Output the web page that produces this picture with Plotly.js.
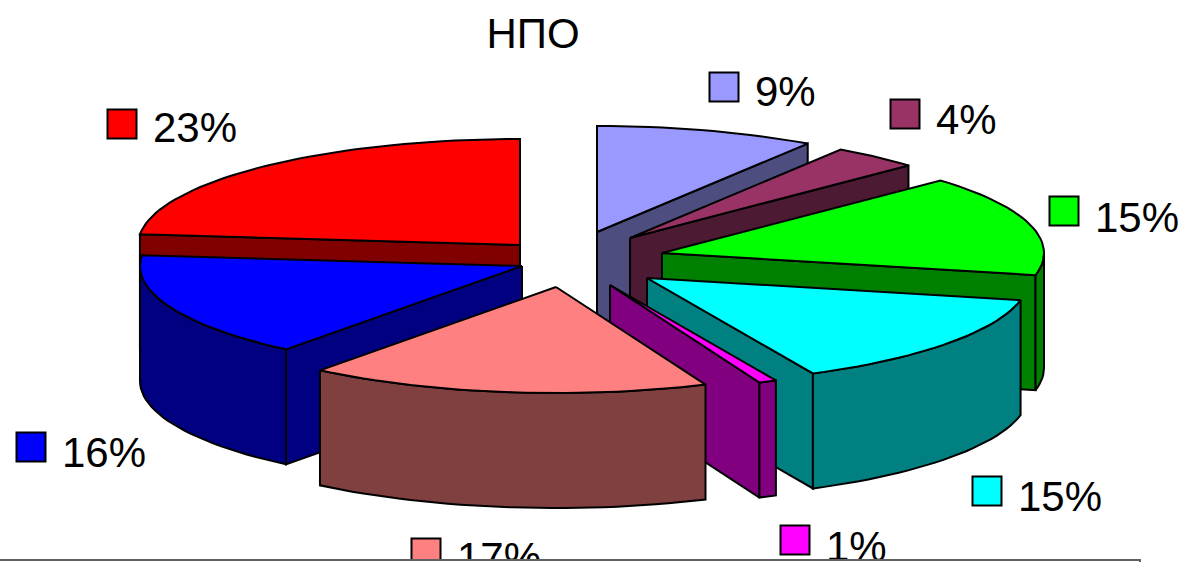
<!DOCTYPE html>
<html><head><meta charset="utf-8">
<script src="https://cdn.plot.ly/plotly-3.0.1.min.js"></script>
<style>html,body{margin:0;padding:0;background:#fff;overflow:hidden}</style></head>
<body><div id="chart" style="width:1182px;height:562px"></div>
<script>
// data: slices run counter-clockwise from 12 o'clock; labels are the rounded shares
const shares = [23.4, 16, 17, 0.75, 14.5, 15.35, 3.7, 9.3];
const chartTitle = "НПО";

// styles
const topColors  = ["#FF0000","#0000FF","#FF8080","#FF00FF","#00FFFF","#00FF00","#993366","#9999FF"];
const sideColors = ["#800000","#000080","#804040","#800080","#008080","#008000","#4D1A33","#4D4D80"];

// layout of the exploded 3D pie
const apexX = [520, 522, 556, 610, 647, 662, 630, 597];
const apexY = [245, 266, 287, 285, 278, 253, 238, 232];
const swatchX = [122, 31, 426, 795, 987, 1064, 905, 724];
const swatchY = [124, 447, 553, 540, 491, 211, 114, 87];
const labelY  = [131, 456, 561, 550, 500, 221, 123, 95];
const rx = 382, ry = 106, depth = 115;
const drawOrder = [7, 6, 5, 4, 0, 1, 3, 2];

const rad = d => d * Math.PI / 180;
const starts = []; let acc = 90;
shares.forEach(s => { starts.push(acc); acc += s * 3.6; });

function arc(cx, cy, a0, a1, dy) {
  const xs = [], ys = [], n = Math.max(2, Math.ceil((a1 - a0) / 2));
  for (let i = 0; i <= n; i++) {
    const a = rad(a0 + (a1 - a0) * i / n);
    xs.push(cx + rx * Math.cos(a)); ys.push(cy - ry * Math.sin(a) + dy);
  }
  return [xs, ys];
}
function poly(xs, ys, fill) {
  return {type:"scatter", mode:"lines", x:[...xs, xs[0]], y:[...ys, ys[0]], fill:"toself",
    fillcolor:fill, line:{color:"#000", width:2}, hoverinfo:"skip", showlegend:false};
}
const traces = [];
drawOrder.forEach(i => {
  const cx = apexX[i], cy = apexY[i], a0 = starts[i], a1 = a0 + shares[i] * 3.6;
  // only the cut faces turned toward the viewer
  [[a0, Math.cos(rad(a0)) > 1e-6], [a1, Math.cos(rad(a1)) < -1e-6]].forEach(([a, seen]) => {
    if (!seen) return;
    const ex = cx + rx * Math.cos(rad(a)), ey = cy - ry * Math.sin(rad(a));
    traces.push(poly([cx, ex, ex, cx], [cy, ey, ey + depth, cy + depth], sideColors[i]));
  });
  // the front of the rim: the parts of the arc between 180 and 360 degrees
  [[180, 360], [540, 720]].forEach(([lo, hi]) => {
    const b0 = Math.max(a0, lo), b1 = Math.min(a1, hi);
    if (b1 > b0) {
      const [tx, ty] = arc(cx, cy, b0, b1, 0), [bx, by] = arc(cx, cy, b0, b1, depth);
      traces.push(poly([...tx, ...bx.reverse()], [...ty, ...by.reverse()], sideColors[i]));
    }
  });
  const [ax, ay] = arc(cx, cy, a0, a1, 0);
  traces.push(poly([cx, ...ax], [cy, ...ay], topColors[i]));
});
const legendFont = {family:"Liberation Sans, Arial, sans-serif", size:42, color:"#000"};
traces.push({type:"scatter", mode:"markers", x:swatchX, y:swatchY, hoverinfo:"skip", showlegend:false,
  marker:{symbol:"square", size:29, color:topColors, line:{color:"#000", width:2}}, cliponaxis:false});
traces.push({type:"scatter", mode:"text", x:swatchX.map(v => v + 31), y:labelY, text:shares.map(v => Math.round(v) + "%"),
  textposition:"middle right", textfont:legendFont, hoverinfo:"skip", showlegend:false, cliponaxis:false});

const layout = {
  width:1182, height:562, margin:{l:0,r:0,t:0,b:0}, paper_bgcolor:"#fff", plot_bgcolor:"#fff",
  title:{text:chartTitle, x:533/1182, xanchor:"center", y:1-33/562, yanchor:"middle",
    font:{family:legendFont.family, size:42, color:"#000"}},
  xaxis:{range:[0,1182], visible:false, fixedrange:true},
  yaxis:{range:[562,0], visible:false, fixedrange:true},
  shapes:[{type:"rect", layer:"above", xref:"x", yref:"y", x0:-3, x1:1140, y0:560, y1:568,
    fillcolor:"#fff", line:{color:"#606060", width:2}}]
};
Plotly.newPlot("chart", traces, layout, {displayModeBar:false, staticPlot:true});
</script></body></html>
